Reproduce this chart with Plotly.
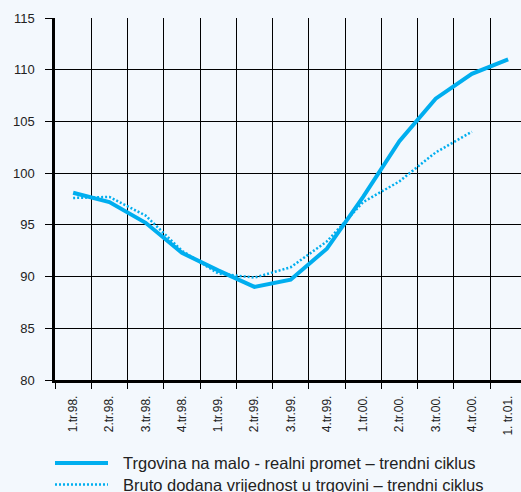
import plotly.graph_objects as go

categories = ["1.tr.98.", "2.tr.98.", "3.tr.98.", "4.tr.98.", "1.tr.99.", "2.tr.99.",
              "3.tr.99.", "4.tr.99.", "1.tr.00.", "2.tr.00.", "3.tr.00.", "4.tr.00.", "1. tr.01."]
trgovina_name = "Trgovina na malo - realni promet – trendni ciklus"
trgovina = [98.1, 97.2, 95.2, 92.3, 90.6, 89.0, 89.7, 92.7, 97.7, 103.1, 107.2, 109.6, 111.0]
bruto_name = "Bruto dodana vrijednost u trgovini – trendni ciklus"
bruto = [97.6, 97.7, 95.9, 92.5, 90.3, 89.9, 90.9, 93.4, 97.2, 99.2, 102.0, 104.0, None]
y_ticks = [80, 85, 90, 95, 100, 105, 110, 115]

COLOR = "#00aeef"
BG = "#f3f8fd"
FONT = "Liberation Sans, Arial, sans-serif"

W, H = 521, 492
ML, MR, MT, MB = 55, 0, 18, 112

fig = go.Figure()
fig.add_trace(go.Scatter(x=categories, y=trgovina, mode="lines", name=trgovina_name,
                         line=dict(color=COLOR, width=4), showlegend=False))
fig.add_trace(go.Scatter(x=categories, y=bruto, mode="lines", name=bruto_name,
                         line=dict(color=COLOR, width=2.5, dash="2px,2px"), showlegend=False))

fig.update_layout(
    width=W, height=H,
    margin=dict(l=ML, r=MR, t=MT, b=MB, pad=0, autoexpand=False),
    paper_bgcolor=BG, plot_bgcolor=BG,
    font=dict(family=FONT, size=12, color="#222"),
)
fig.update_xaxes(
    type="category", categoryorder="array", categoryarray=categories,
    range=[-0.5, 12.355], tickson="boundaries", automargin=False,
    showgrid=True, gridcolor="black", gridwidth=1,
    showline=True, linecolor="black", linewidth=2.5,
    ticks="outside", ticklen=6, tickcolor="black", tickwidth=1,
    tickangle=-90, tickfont=dict(size=12), ticklabelstandoff=8,
    zeroline=False,
)
fig.update_yaxes(
    range=[80, 115], tickvals=y_ticks, automargin=False,
    showgrid=True, gridcolor="black", gridwidth=1,
    showline=True, linecolor="black", linewidth=2.5,
    ticks="outside", ticklen=7, tickcolor="black", tickwidth=1,
    tickfont=dict(size=13), ticklabelstandoff=8,
    zeroline=False,
)

# legend drawn manually
pw = W - ML - MR
ph = H - MT - MB
def px2paper(px, py):
    return (px - ML) / pw, (H - MB - py) / ph

for i, (name, style) in enumerate([(trgovina_name, dict(width=4)),
                                   (bruto_name, dict(width=2.5, dash="2px,2px"))]):
    py = 463 + i * 21.5
    x0, y0 = px2paper(55, py)
    x1, _ = px2paper(108, py)
    fig.add_shape(type="line", xref="paper", yref="paper", x0=x0, x1=x1, y0=y0, y1=y0,
                  line=dict(color=COLOR, **style))
    tx, _ = px2paper(121, py)
    fig.add_annotation(xref="paper", yref="paper", x=tx, y=y0, text=name, showarrow=False,
                       xanchor="left", yanchor="middle", font=dict(size=16.5, color="#222"))

fig.write_html(
    "out.html",
    config={"displayModeBar": False},
    post_script=f"document.body.style.margin='0';document.body.style.background='{BG}';"
                "document.body.style.overflow='hidden';",
)
